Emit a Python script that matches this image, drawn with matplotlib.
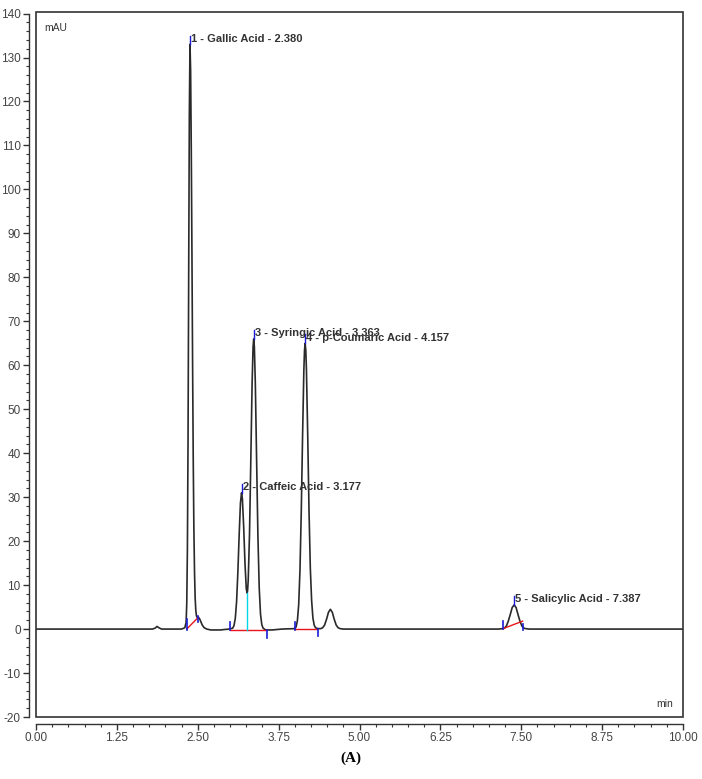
import matplotlib
matplotlib.use("Agg")
import matplotlib.pyplot as plt
import numpy as np
from matplotlib.patches import Rectangle
from matplotlib.ticker import MultipleLocator, FormatStrFormatter

plt.rcParams['font.family'] = ['Liberation Sans', 'DejaVu Sans']
plt.rcParams['axes.unicode_minus'] = False

# chromatogram trace (min, mAU)
trace_time = [0.00, 0.50, 1.00, 1.50, 1.80, 1.84, 1.87, 1.90, 1.94, 2.10, 2.25,
              2.30, 2.32, 2.33, 2.34, 2.35, 2.36, 2.37, 2.38, 2.39, 2.40, 2.41,
              2.42, 2.43, 2.44, 2.45, 2.46, 2.47, 2.48, 2.49, 2.51, 2.53, 2.55,
              2.57, 2.60, 2.64, 2.70, 2.85, 2.98, 3.04, 3.06, 3.08, 3.10, 3.12,
              3.14, 3.16, 3.177, 3.19, 3.21, 3.23, 3.25, 3.262, 3.27, 3.28, 3.30,
              3.32, 3.34, 3.355, 3.365, 3.375, 3.39, 3.41, 3.43, 3.45, 3.47, 3.49,
              3.51, 3.55, 3.65, 3.80, 4.00, 4.02, 4.04, 4.06, 4.08, 4.10, 4.12,
              4.14, 4.15, 4.16, 4.17, 4.18, 4.20, 4.22, 4.24, 4.26, 4.28, 4.30,
              4.32, 4.36, 4.40, 4.43, 4.46, 4.49, 4.52, 4.55, 4.58, 4.61, 4.64,
              4.67, 4.70, 4.75, 5.50, 6.50, 7.15, 7.21, 7.24, 7.27, 7.30, 7.33,
              7.36, 7.39, 7.42, 7.45, 7.48, 7.51, 7.54, 7.57, 7.62, 8.50, 10.00]
trace_mau = [0.0, 0.0, 0.0, 0.0, 0.0, 0.2, 0.6, 0.3, 0.0, 0.0, 0.0,
             0.3, 1.5, 5.8, 18.0, 43.0, 81.0, 117.0, 133.0, 127.0, 109.0, 86.0,
             61.0, 39.0, 23.0, 13.0, 7.0, 4.2, 3.0, 2.7, 2.7, 2.3, 1.6,
             0.9, 0.3, 0.0, -0.2, -0.2, 0.0, 0.2, 0.8, 2.4, 6.2, 12.9,
             21.4, 28.7, 31.0, 29.6, 23.2, 15.0, 9.2, 8.2, 8.7, 11.1, 21.6,
             38.3, 55.8, 64.2, 66.0, 64.2, 55.8, 38.2, 21.1, 9.4, 3.4, 1.0,
             0.2, -0.2, -0.2, 0.0, 0.1, 0.5, 1.9, 5.5, 13.4, 26.7, 43.8,
             58.9, 63.4, 65.0, 63.4, 58.9, 43.8, 26.7, 13.8, 6.5, 2.5, 0.9,
             0.3, 0.1, 0.1, 0.3, 0.9, 2.2, 3.8, 4.5, 3.8, 2.2, 0.9,
             0.3, 0.1, 0.0, 0.0, 0.0, 0.0, 0.1, 0.2, 0.7, 1.8, 3.3,
             4.9, 5.5, 4.9, 3.3, 1.8, 0.7, 0.2, 0.1, 0.0, 0.0, 0.0]

# peak annotations
peak_names = ["1 - Gallic Acid - 2.380", "2 - Caffeic Acid - 3.177",
              "3 - Syringic Acid - 3.363", "4 - p-Coumaric Acid - 4.157",
              "5 - Salicylic Acid - 7.387"]
peak_time = [2.380, 3.177, 3.363, 4.157, 7.387]
peak_height = [133.0, 31.0, 66.0, 65.0, 5.5]

# integration baselines (red) and their start/end markers (blue)
base_t0 = [2.33, 3.00, 4.01, 7.22]
base_y0 = [0.0, -0.1, 0.0, 0.1]
base_t1 = [2.51, 3.56, 4.35, 7.52]
base_y1 = [2.7, -0.1, 0.0, 1.8]
mark_t = [2.33, 2.51, 3.00, 3.57, 4.01, 4.36, 7.22, 7.52]
mark_lo = [-0.2, 1.7, -0.3, -2.0, -0.2, -1.5, 0.0, -0.3]
mark_hi = [2.2, 3.0, 1.5, -0.3, 1.6, 0.0, 1.9, 1.2]
# valley drop line between peaks 2 and 3 (cyan)
drop_t = 3.262
drop_y = [-0.1, 8.2]

fig = plt.figure(figsize=(7.02, 7.79), dpi=100)
ax = fig.add_axes([36 / 702, 62 / 779, 647 / 702, 705 / 779])

ax.plot(trace_time, trace_mau, color="#2a2a2a", lw=1.2, zorder=3)

for t0, y0, t1, y1 in zip(base_t0, base_y0, base_t1, base_y1):
    ax.plot([t0, t1], [y0, y1], color="#e8141c", lw=1.0, zorder=4)
for t, lo, hi in zip(mark_t, mark_lo, mark_hi):
    ax.plot([t, t], [lo, hi], color="#1a1ad6", lw=1.2, zorder=5)
ax.plot([drop_t, drop_t], drop_y, color="#00d4e6", lw=1.0, zorder=4)

for name, t, h in zip(peak_names, peak_time, peak_height):
    ax.plot([t, t], [h, h + 2.0], color="#1a1ad6", lw=1.0, zorder=5)
    ax.text(t + 0.02, h + 1.3, name, fontsize=8, fontweight="bold",
            color="#333333", ha="left", va="center", zorder=6)

ax.set_xlim(0, 10)
ax.set_ylim(-20, 140.35)

ax.xaxis.set_major_locator(MultipleLocator(1.25))
ax.xaxis.set_minor_locator(MultipleLocator(0.25))
ax.xaxis.set_major_formatter(FormatStrFormatter("%.2f"))
ax.yaxis.set_major_locator(MultipleLocator(10))
ax.yaxis.set_minor_locator(MultipleLocator(2))

for side in ["left", "bottom"]:
    ax.spines[side].set_position(("outward", 5))
    ax.spines[side].set_color("#333333")
    ax.spines[side].set_linewidth(1.0)
ax.spines["left"].set_bounds(-20, 140)
ax.spines["bottom"].set_bounds(0, 10)
ax.spines["top"].set_visible(False)
ax.spines["right"].set_visible(False)

ax.tick_params(which="major", direction="out", length=4, width=1.0,
               color="#333333", labelsize=8.5, labelcolor="#444444", pad=2)
ax.tick_params(which="minor", direction="out", length=2.5, width=0.8,
               color="#333333")

# plot frame
ax.add_patch(Rectangle((0, 0), 1, 1, transform=ax.transAxes, fill=False,
                       ec="#333333", lw=1.2, clip_on=False, zorder=7))

ax.text(0.013, 0.985, "mAU", transform=ax.transAxes, fontsize=7.5,
        color="#333333", ha="left", va="top")
ax.text(0.985, 0.012, "min", transform=ax.transAxes, fontsize=7.5,
        color="#333333", ha="right", va="bottom")

fig.text(0.5, 1 - 758 / 779, "(A)", fontsize=11, fontweight="bold",
         family="Liberation Serif", ha="center", va="center")

plt.savefig("out.png", dpi=100)
